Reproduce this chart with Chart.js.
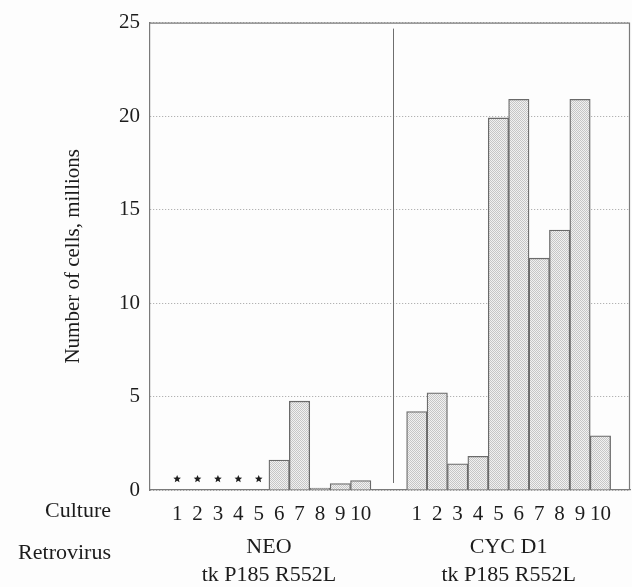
<!DOCTYPE html>
<html>
<head>
<meta charset="utf-8">
<script src="https://cdn.jsdelivr.net/npm/chart.js@4.4.1/dist/chart.umd.min.js"></script>
<style>
  html, body { margin: 0; padding: 0; background: #fdfdfd; }
  #wrap { width: 632px; height: 587px; }
</style>
</head>
<body>
<div id="wrap"><canvas id="canvas"></canvas></div>
<script>
// cultures per retrovirus, cell counts in millions (0 = no growth, marked with a star)
const cultures = ['1', '2', '3', '4', '5', '6', '7', '8', '9', '10'];
const neoCells = [0, 0, 0, 0, 0, 1.6, 4.75, 0.1, 0.35, 0.5];
const cycCells = [4.2, 5.2, 1.4, 1.8, 19.9, 20.9, 12.4, 13.9, 20.9, 2.9];
const groupLabels = [['NEO', 'tk P185 R552L'], ['CYC D1', 'tk P185 R552L']];
const rowLabels = ['Culture', 'Retrovirus'];

const groupGap = 1.75;   // extra culture slots between the two groups
const dividerX = 11.6;   // where the separator line stands, in slot units

const neoX = cultures.map((c, i) => i + 1);
const cycX = cultures.map((c, i) => i + 1 + cultures.length + groupGap);
const tickPos = neoX.concat(cycX);
const tickText = cultures.concat(cultures);

const serif = "'Liberation Serif', 'DejaVu Serif', serif";
const ink = '#1c1c1c';

function stipple() {
  const c = document.createElement('canvas');
  c.width = 4; c.height = 4;
  const g = c.getContext('2d');
  g.fillStyle = '#f1f1f1';
  g.fillRect(0, 0, 4, 4);
  g.fillStyle = '#c6c6c6';
  for (let y = 0; y < 4; y++)
    for (let x = 0; x < 4; x++)
      if ((x + y) % 2 === 0) g.fillRect(x, y, 1, 1);
  return g.createPattern(c, 'repeat');
}
const fill = stipple();

function star(ctx, x, y, r) {
  ctx.beginPath();
  for (let k = 0; k < 10; k++) {
    const rad = k % 2 ? r * 0.45 : r;
    const a = -Math.PI / 2 + k * Math.PI / 5;
    ctx.lineTo(x + rad * Math.cos(a), y + rad * Math.sin(a));
  }
  ctx.closePath();
  ctx.fill();
}

const decor = {
  id: 'decor',
  afterDatasetsDraw(chart) {
    const { ctx, chartArea: a, scales: { x, y } } = chart;
    ctx.save();
    // box top and right
    ctx.strokeStyle = '#7a7a7a';
    ctx.lineWidth = 1.2;
    ctx.beginPath();
    ctx.moveTo(a.left, a.top + 0.5);
    ctx.lineTo(a.right - 0.5, a.top + 0.5);
    ctx.lineTo(a.right - 0.5, a.bottom);
    ctx.stroke();
    // separator between the groups
    const dx = Math.round(x.getPixelForValue(dividerX)) + 0.5;
    ctx.strokeStyle = '#6e6e6e';
    ctx.lineWidth = 1;
    ctx.beginPath();
    ctx.moveTo(dx, a.top + 6);
    ctx.lineTo(dx, a.bottom - 7);
    ctx.stroke();
    // stars for cultures without growth
    ctx.fillStyle = '#1e1e1e';
    const y0 = y.getPixelForValue(0);
    neoCells.forEach((v, i) => {
      if (v === 0) star(ctx, x.getPixelForValue(neoX[i]), y0 - 11, 4);
    });
    ctx.restore();
  },
  afterDraw(chart) {
    const { ctx, scales: { x } } = chart;
    ctx.save();
    ctx.fillStyle = ink;
    ctx.font = '22px ' + serif;
    ctx.textBaseline = 'middle';
    ctx.textAlign = 'right';
    ctx.fillText(rowLabels[0], 111, 511);
    ctx.fillText(rowLabels[1], 111, 553);
    ctx.textAlign = 'center';
    [neoX, cycX].forEach((xs, g) => {
      const cx = (x.getPixelForValue(xs[0]) + x.getPixelForValue(xs[xs.length - 1])) / 2;
      ctx.fillText(groupLabels[g][0], cx, 547);
      ctx.fillText(groupLabels[g][1], cx, 575);
    });
    ctx.restore();
  }
};

const barStyle = {
  backgroundColor: fill,
  borderColor: '#6a6a6a',
  borderWidth: 1.3,
  barPercentage: 1,
  categoryPercentage: 1,
  grouped: false
};

new Chart(document.getElementById('canvas').getContext('2d'), {
  type: 'bar',
  data: {
    datasets: [Object.assign({
      label: 'NEO',
      data: neoX.map((p, i) => ({ x: p, y: neoCells[i] === 0 ? null : neoCells[i] }))
    }, barStyle), Object.assign({
      label: 'CYC D1',
      data: cycX.map((p, i) => ({ x: p, y: cycCells[i] }))
    }, barStyle)]
  },
  options: {
    responsive: true,
    maintainAspectRatio: false,
    animation: false,
    layout: { padding: { left: 0, right: 2, top: 17, bottom: 0 } },
    plugins: {
      legend: { display: false },
      tooltip: { enabled: false }
    },
    scales: {
      x: {
        type: 'linear',
        offset: false,
        min: -0.33,
        max: 23.2,
        grid: { display: false, drawTicks: false },
        border: { display: true, color: '#7a7a7a', width: 1.2 },
        afterBuildTicks: s => { s.ticks = tickPos.map(v => ({ value: v })); },
        afterFit: s => { s.height = 97; },
        ticks: {
          autoSkip: false,
          maxRotation: 0,
          padding: 12,
          color: ink,
          font: { family: serif, size: 21 },
          callback: (v, i) => tickText[i]
        }
      },
      y: {
        min: 0,
        max: 25,
        afterFit: s => { s.width = 150; },
        grid: { color: '#a0a0a0', lineWidth: 1, drawTicks: false },
        border: { display: true, color: '#7a7a7a', width: 1.2, dash: [1, 2] },
        ticks: {
          stepSize: 5,
          padding: 10,
          color: ink,
          font: { family: serif, size: 21 }
        },
        title: {
          display: true,
          text: 'Number of cells, millions',
          color: ink,
          font: { family: serif, size: 21 },
          padding: { top: 61, bottom: 0 }
        }
      }
    }
  },
  plugins: [decor]
});
</script>
</body>
</html>
